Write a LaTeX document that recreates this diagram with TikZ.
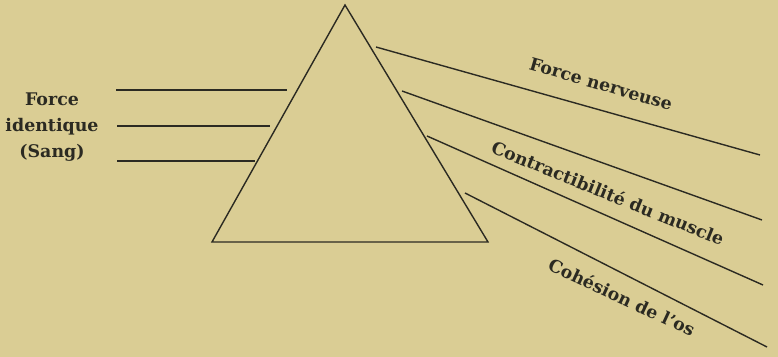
\documentclass[tikz,border=0pt]{standalone}
\usepackage{fontspec}
\setmainfont{DejaVu Serif}
\usepackage{xcolor}
\usepackage{tikz}
\usetikzlibrary{positioning}
\definecolor{paper}{HTML}{DACD94}
\definecolor{ink}{HTML}{2B2A22}

\begin{document}
\begin{tikzpicture}[x=0.5pt, y=-0.5pt,
    ray/.style={draw=ink, line width=0.7pt},
    lbl/.style={font=\fontsize{8.7}{13.2}\selectfont\bfseries, text=ink, inner sep=0pt}]
  \fill[paper] (0,0) rectangle (778,357);
  \useasboundingbox (0,0) rectangle (778,357);

  % prism
  \coordinate (apex) at (345,5);
  \coordinate (baseL) at (212,242);
  \coordinate (baseR) at (488,242);
  \draw[ray] (apex) -- (baseL) -- (baseR) -- cycle;

  % incoming force
  \node[lbl, align=center] (sang) at (52,127) {Force\\identique\\(Sang)};
  \coordinate (inA) at (116,90);   \coordinate (inAe) at (287,90);
  \coordinate (inB) at (117,126);  \coordinate (inBe) at (270,126);
  \coordinate (inC) at (117,161);  \coordinate (inCe) at (255,161);
  \draw[ray] (inA) -- (inAe);
  \draw[ray] (inB) -- (inBe);
  \draw[ray] (inC) -- (inCe);

  % outgoing forces
  \coordinate (outA) at (376,47);  \coordinate (outAe) at (760,155);
  \coordinate (outB) at (402,91);  \coordinate (outBe) at (762,220);
  \coordinate (outC) at (427,136); \coordinate (outCe) at (763,285);
  \coordinate (outD) at (465,193); \coordinate (outDe) at (767,347);
  \draw[ray] (outA) -- (outAe);
  \draw[ray] (outB) -- (outBe);
  \draw[ray] (outC) -- (outCe);
  \draw[ray] (outD) -- (outDe);

  \node[lbl, rotate=-16] (nerf) at (601,84) {Force nerveuse};
  \node[lbl, rotate=-22] (muscle) at (608,193) {Contractibilité du muscle};
  \node[lbl, rotate=-25] (os) at (622,297) {Cohésion de l'os};
\end{tikzpicture}
\end{document}
